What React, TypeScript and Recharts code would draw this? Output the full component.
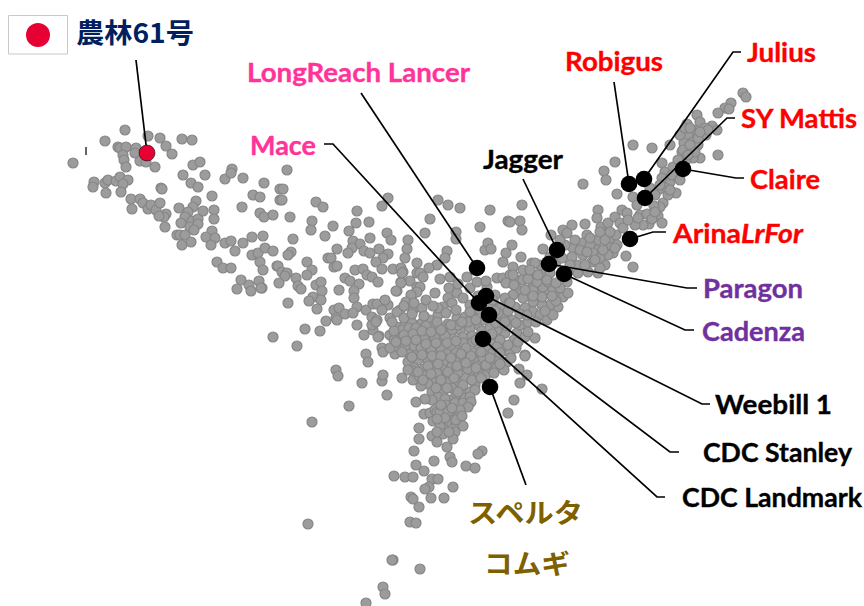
import React from 'react';
import { ScatterChart, Scatter, XAxis, YAxis, ReferenceDot, ReferenceArea } from 'recharts';

type Pair = [number, number];

// values, on the chart's own hidden axes
const westGroup: Pair[] = [
  [125,130],[105,141],[148,136],[160,138],[166,146],[172,154],[182,139],[192,140],[118,147],[120,148],[126,147],[136,148],
  [135,153],[123,155],[124,160],[126,167],[140,161],[146,162],[155,167],[73,163],[193,165],[200,162],[183,175],[205,175],
  [191,183],[198,187],[225,179],[232,169],[231,173],[243,178],[264,183],[94,182],[93,187],[105,183],[108,180],[116,181],
  [120,177],[128,180],[123,184],[121,192],[106,193],[161,188],[162,189],[131,199],[140,199],[132,209],[143,203],[148,209],
  [151,205],[156,210],[160,203],[166,214],[164,217],[159,216],[165,227],[179,208],[196,201],[193,207],[188,212],[185,217],
  [192,221],[198,219],[181,223],[190,227],[198,224],[194,230],[203,211],[214,210],[214,219],[212,196],[242,207],[253,195],
  [260,197],[260,213],[264,217],[273,215],[280,200],[280,189],[212,231],[206,237],[215,238],[211,245],[177,235],[180,235],
  [185,235],[182,245],[191,242],[225,243],[231,241],[235,251],[243,243],[252,237],[263,236],[252,255],[258,253],[265,248],
  [273,251],[260,262],[217,262],[223,268],[231,268],[277,266],[263,270],
];

const midBand: Pair[] = [
  [287,170],[283,189],[282,200],[290,217],[316,202],[323,207],[388,198],[382,206],[357,211],[369,222],[356,223],[349,231],
  [312,221],[311,230],[333,226],[325,236],[387,233],[391,240],[408,240],[370,238],[353,241],[360,244],[352,248],[348,253],
  [337,249],[364,251],[370,253],[379,249],[388,254],[383,258],[376,262],[382,269],[407,249],[405,258],[417,263],[293,239],
  [291,252],[288,255],[307,262],[312,270],[307,275],[328,258],[331,258],[334,267],[337,266],[355,270],[363,269],[367,275],
  [372,277],[378,282],[393,269],[401,268],[403,272],[417,273],[410,281],[401,282],[397,291],[278,266],[282,272],[287,273],
  [285,276],[296,278],[298,286],[301,289],[279,283],[241,280],[237,289],[249,285],[251,291],[259,281],[262,288],[261,288],
  [345,278],[350,281],[359,284],[354,291],[316,285],[321,282],[322,291],[339,290],[313,297],[309,301],[321,300],[317,309],
  [288,303],[354,298],[357,307],[334,310],[339,308],[336,318],[345,314],[353,313],[366,310],[357,325],[326,321],[305,329],
  [320,331],[273,337],[297,346],[373,304],[377,304],[388,305],[385,300],[382,310],[372,317],[377,320],[373,330],[364,335],
  [379,336],[390,335],[399,333],[397,327],[400,310],[412,295],[417,287],[405,325],[413,310],[410,318],[417,327],[410,335],
  [337,320],[372,325],[376,322],[378,337],[366,354],[368,362],[382,348],[383,352],[395,354],[336,370],[338,376],[362,383],
  [382,381],[383,375],[387,395],[349,406],[312,422],[308,524],
];

const upperCore: Pair[] = [
  [438,200],[448,205],[460,208],[490,210],[522,205],[508,221],[510,222],[520,221],[522,230],[430,219],[480,227],[425,233],
  [456,232],[456,239],[447,251],[445,258],[437,265],[429,268],[420,273],[423,277],[450,277],[440,279],[467,277],[485,250],
  [488,243],[491,249],[512,245],[506,253],[503,262],[521,257],[513,267],[543,249],[532,263],[402,273],[401,283],[396,291],
  [420,287],[417,292],[411,295],[406,302],[422,308],[435,293],[449,288],[448,298],[457,293],[463,298],[443,307],[438,315],
  [430,320],[422,323],[412,323],[390,318],[458,284],[470,288],[477,282],[487,287],[478,296],[470,305],
];

const denseCore: Pair[] = [
  [397,312],[404,318],[412,314],[424,316],[402,330],[409,328],[418,333],[427,333],[438,333],[448,324],[457,318],[465,317],
  [472,317],[478,325],[470,328],[460,330],[448,333],[440,342],[430,343],[420,342],[410,340],[402,337],[398,347],[409,354],
  [418,352],[427,354],[435,352],[452,347],[460,347],[467,352],[478,347],[487,353],[503,347],[510,353],[497,337],[488,337],
  [505,333],[517,333],[525,337],[535,338],[525,355],[503,317],[512,320],[520,325],[528,332],[497,330],[497,278],[503,278],
  [510,275],[518,290],[495,295],[517,280],[523,280],[532,288],[540,290],[547,293],[557,295],[558,307],[550,305],
  [542,305],[533,302],[523,298],[513,295],[505,298],[515,307],[525,308],[533,312],[540,315],[547,320],[553,315],[530,273],
  [537,275],[543,273],[550,273],[567,282],[533,290],[543,287],[553,288],[563,297],[568,293],
  [452,303],[438,308],[470,312],[480,310],[491,305],[500,308],[508,311],[492,318],[484,320],[456,310],[446,313],[432,327],
  [442,328],[452,330],[463,337],[472,336],[482,331],[490,328],[496,323],[507,326],[514,340],[492,344],[483,341],[473,342],
  [463,343],[453,339],[445,336],[435,338],[424,337],[414,346],[405,346],[421,348],[431,349],[441,348],[447,354],[456,353],
  [473,353],[482,358],[493,352],[499,359],[507,362],[516,348],[491,364],[483,367],[474,361],[464,360],[455,359],[446,362],
  [437,360],[428,361],[418,360],[408,362],[414,368],[424,369],[433,367],[442,369],[452,366],[461,367],[470,371],[479,373],
  [488,372],[497,367],[413,380],[419,376],[413,371],[427,375],[433,379],[437,373],[447,376],[448,383],[458,383],[465,378],
  [458,373],[468,369],[477,366],[486,365],[504,370],[440,385],[452,388],[462,390],[470,392],[475,385],[428,384],[421,386],
  [475,390],[443,392],[432,392],[438,397],[456,395],[465,398],[449,400],[402,378],[392,322],[394,340],[390,348],[528,322],
  [500,340],[492,334],[480,336],[468,322],[458,325],[437,322],[426,326],[416,328],[404,306],[414,303],[426,300],[433,306],
  [486,281],[493,300],[498,313],[509,303],[520,314],[536,322],[516,323],
  [394,331],[404,335],[413,334],[422,331],[431,332],[441,330],[451,325],[462,322],[476,320],[487,312],[495,311],[505,322],
  [396,342],[406,341],[416,340],[426,344],[436,343],[447,343],[456,341],[466,348],[476,340],[486,346],[497,347],[508,345],[518,342],
  [402,352],[412,357],[422,355],[432,356],[441,356],[451,358],[461,354],[471,356],[481,352],[490,358],[500,353],[511,358],
  [408,370],[418,372],[428,366],[438,364],[448,372],[457,366],[466,363],[476,368],[485,376],[494,373],[500,364],
  [423,380],[431,374],[441,380],[454,378],[463,385],[472,380],[481,378],[436,388],[447,388],[458,392],[445,399],[455,403],[463,403],[470,397],
  [506,283],[514,285],[525,290],[537,282],[548,282],[560,288],[528,279],[510,303],[527,315],[545,311],[556,301],[542,297],[533,296],[552,296],
  [513,275],[523,270],[540,265],[550,257],
];

const southTail: Pair[] = [
  [432,400],[425,399],[416,402],[446,405],[471,402],[468,407],[460,410],[424,414],[430,413],[435,410],[437,412],[433,421],
  [450,417],[458,417],[447,422],[456,425],[463,426],[443,428],[440,426],[455,432],[443,434],[419,428],[419,439],[432,436],
  [437,442],[453,439],[447,447],[414,451],[482,451],[478,454],[434,461],[450,457],[452,462],[416,465],[424,471],[466,466],
  [475,468],[394,476],[405,477],[413,477],[432,479],[438,479],[429,487],[425,489],[453,487],[431,498],[444,498],[411,497],
  [413,499],[419,507],[410,522],[416,523],[393,560],[392,560],[420,569],[383,587],[385,594],[366,603],[520,383],[514,400],
  [508,413],[542,389],[525,356],[519,369],[527,375],
  [440,412],[448,412],[452,408],[441,405],[445,418],[456,420],[462,416],[437,419],[437,432],[449,432],
];

const eastArm: Pair[] = [
  [743,93],[746,97],[731,103],[725,108],[729,109],[718,113],[697,115],[703,128],[712,126],[717,130],[697,130],[692,132],
  [688,135],[693,142],[684,143],[682,152],[692,150],[700,158],[693,158],[718,155],[670,145],[652,148],[633,145],[615,162],
  [604,171],[606,180],[583,184],[617,194],[662,163],[665,172],[673,167],[670,182],[665,188],[658,190],[676,193],[633,197],
  [637,205],[663,203],[660,207],[654,206],[598,210],[597,218],[601,227],[608,223],[615,217],[622,210],[627,213],[620,223],
  [640,215],[647,214],[658,216],[662,223],[649,224],[643,225],[635,225],[585,224],[572,225],[563,230],[567,233],[551,235],
  [587,235],[582,243],[573,248],[598,240],[610,240],[616,235],[623,228],[608,247],[617,245],[613,253],[598,250],[590,245],
  [593,253],[583,255],[572,257],[578,265],[592,262],[605,265],[608,255],[626,256],[633,267],[535,263],[530,270],[538,275],
  [568,272],[578,273],[598,273],[556,262],[562,258],[547,280],[556,283],[588,272],[600,258],[570,265],[677,177],[686,160],
  [700,122],[706,135],[698,145],[687,124],
  [600,232],[605,240],[590,238],[580,250],[587,252],[603,250],[595,260],[585,265],[600,268],[615,248],[575,240],[565,245],
  [560,240],[610,232],[628,220],[638,218],[652,219],[655,212],[668,195],[672,175],[680,180],[678,160],[683,150],[690,145],
  [695,152],[688,155],[698,138],[705,128],[708,130],[680,135],[685,128],[690,128],[700,132],[650,188],[655,195],[662,178],
  [660,185],[670,190],
];

const blackVarieties: Pair[] = [
  [629,184],[644,179],[645,198],[683,169],[630,239],[557,250],[549,264],[564,274],[477,268],[486,296],[479,303],[489,315],[483,339],[490,387],
];
const norin61: Pair[] = [[147,153]];

const labels = ['農林61号', 'LongReach Lancer', 'Mace', 'Robigus', 'Julius', 'SY Mattis', 'Jagger', 'Claire', 'Paragon', 'Cadenza', 'Weebill 1', 'CDC Stanley', 'CDC Landmark', 'スペルタ', 'コムギ'];

// anchor (left, baseline), width, colour for each label above
const labelStyle: [number, number, number, string][] = [
  [76, 43, 118, '#002060'],
  [247, 82, 223, '#ff3399'],
  [250, 155, 66, '#ff3399'],
  [565, 71, 98, '#ff0000'],
  [747, 62, 69, '#ff0000'],
  [741, 128, 116, '#ff0000'],
  [483, 169, 80, '#000000'],
  [750, 189, 70, '#ff0000'],
  [703, 298, 100, '#7030a0'],
  [702, 341, 103, '#7030a0'],
  [715, 414, 117, '#000000'],
  [703, 462, 149, '#000000'],
  [682, 507, 180, '#000000'],
  [468, 523, 115, '#7f6000'],
  [484, 574, 86, '#7f6000'],
];

const leaders: Pair[][] = [
  [[136,60],[147,153]],
  [[361,93],[477,268]],
  [[324,144],[333,144],[479,303]],
  [[614,82],[629,184]],
  [[741,52],[733,52],[644,179]],
  [[735,118],[727,118],[645,198]],
  [[523,179],[557,250]],
  [[744,178],[736,178],[683,169]],
  [[666,232],[653,232],[630,239]],
  [[697,288],[687,288],[549,264]],
  [[694,330],[685,330],[564,274]],
  [[710,404],[702,404],[486,296]],
  [[679,452],[670,452],[489,315]],
  [[665,497],[657,497],[483,339]],
  [[526,485],[490,387]],
];
const strayMark: Pair[] = [[86,147],[86,155]];

const toPoints = (rows: Pair[]) => rows.map(([x, y]) => ({ x, y }));
const grayPoints = toPoints([...westGroup, ...midBand, ...upperCore, ...denseCore, ...southTail, ...eastArm]);

const FONT = 'Lato, "Noto Sans", sans-serif';
const CJK = '"Noto Sans CJK JP", sans-serif';

const noMark = () => <g />;

const labelShape = (text: string, width: number, color: string) => (props: any) => {
  const cjk = /[^\x00-\x7f]/.test(text);
  return (
    <text
      x={props.cx}
      y={props.cy}
      fill={color}
      stroke={color}
      strokeWidth={cjk ? 0 : 0.35}
      fontFamily={cjk ? CJK : FONT}
      fontWeight={700}
      fontSize={cjk ? 27 : 26}
      textLength={width}
      lengthAdjust="spacingAndGlyphs"
    >
      {text}
    </text>
  );
};

const arinaShape = (props: any) => (
  <text x={props.cx} y={props.cy} fill="#ff0000" stroke="#ff0000" strokeWidth={0.35} fontFamily={FONT} fontWeight={700} fontSize={26} textLength={130} lengthAdjust="spacingAndGlyphs">
    Arina<tspan fontStyle="italic">LrFor</tspan>
  </text>
);

export default function App() {
  return (
    <div style={{ position: 'absolute', left: 0, top: 0, width: 864, height: 606, background: '#fff' }}>
      <ScatterChart width={864} height={606} margin={{ top: 0, right: 0, bottom: 0, left: 0 }}>
        <XAxis type="number" dataKey="x" domain={[0, 864]} hide />
        <YAxis type="number" dataKey="y" domain={[0, 606]} reversed hide />
        <ReferenceArea x1={8.5} x2={67.5} y1={15.5} y2={54} fill="#ffffff" fillOpacity={1} stroke="#c9c9c9" />
        <ReferenceDot x={38} y={35} r={12} fill="#e60033" stroke="none" />
        <Scatter data={grayPoints} isAnimationActive={false} shape={(p: any) => <circle cx={p.cx} cy={p.cy} r={5} fill="#9c9c9c" stroke="#868686" strokeWidth={1.2} />} />
        <Scatter data={toPoints(strayMark)} line={{ stroke: '#333', strokeWidth: 1.5 }} shape={noMark} isAnimationActive={false} />
        {leaders.map((line, i) => (
          <Scatter key={i} data={toPoints(line)} line={{ stroke: '#000', strokeWidth: 1.7 }} lineType="joint" shape={noMark} isAnimationActive={false} />
        ))}
        <Scatter data={toPoints(blackVarieties)} isAnimationActive={false} shape={(p: any) => <circle cx={p.cx} cy={p.cy} r={8.3} fill="#000" />} />
        <Scatter data={toPoints(norin61)} isAnimationActive={false} shape={(p: any) => <circle cx={p.cx} cy={p.cy} r={8} fill="#e60033" stroke="#111" strokeWidth={0.6} />} />
        {labels.map((text, i) => (
          <ReferenceDot key={text} x={labelStyle[i][0]} y={labelStyle[i][1]} r={0} shape={labelShape(text, labelStyle[i][2], labelStyle[i][3])} />
        ))}
        <ReferenceDot x={673} y={243} r={0} shape={arinaShape} />
      </ScatterChart>
    </div>
  );
}
